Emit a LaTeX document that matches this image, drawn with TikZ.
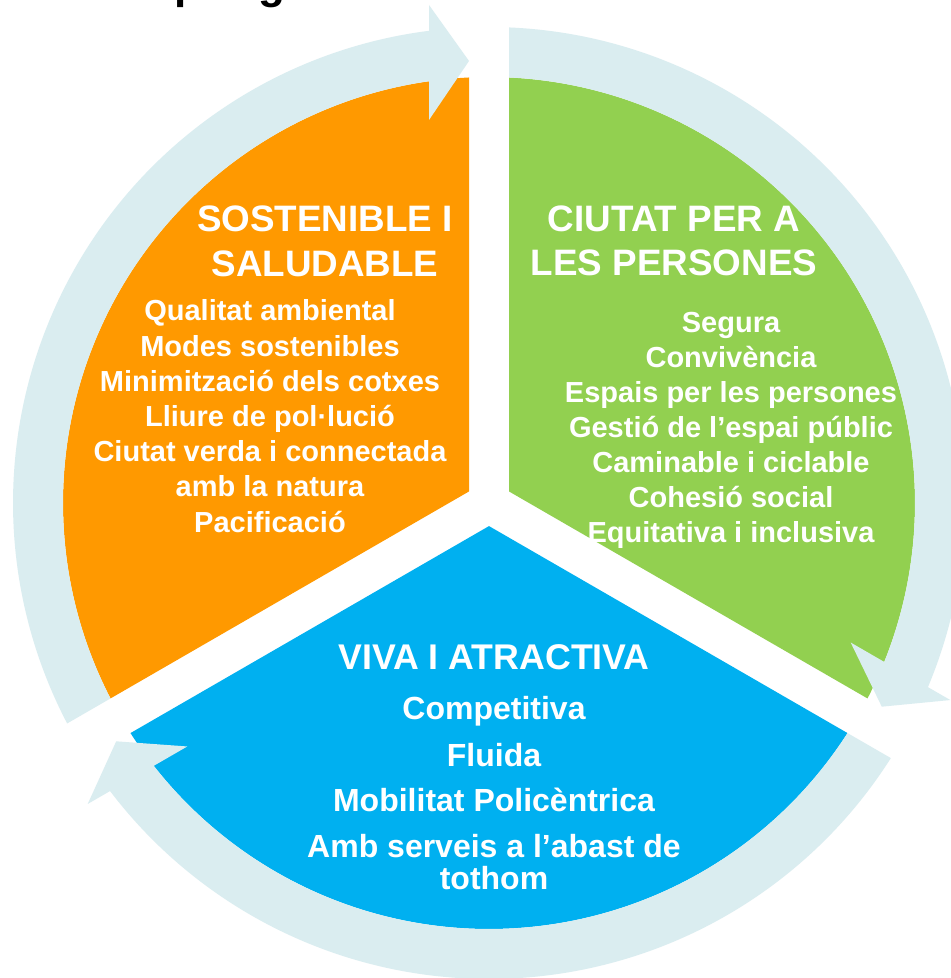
\documentclass[tikz,border=0pt]{standalone}
\usepackage{fontspec}
\setmainfont{Liberation Sans}
\usetikzlibrary{calc}
\definecolor{segorange}{HTML}{FF9900}
\definecolor{seggreen}{HTML}{92D050}
\definecolor{segblue}{HTML}{00B0F0}
\definecolor{ringblue}{RGB}{218,237,240}
\begin{document}
\begin{tikzpicture}[x=1pt,y=1pt,
  headtxt/.style={text=white,font=\bfseries\fontsize{36.8}{44}\selectfont,inner sep=0pt,anchor=base},
  blueheadtxt/.style={text=white,font=\bfseries\fontsize{35.7}{44}\selectfont,inner sep=0pt,anchor=base},
  itemtxt/.style={text=white,font=\bfseries\fontsize{29}{35}\selectfont,inner sep=0pt,anchor=base},
  blueitemtxt/.style={text=white,font=\bfseries\fontsize{32}{35}\selectfont,inner sep=0pt,anchor=base},
  titletxt/.style={text=black,font=\bfseries\fontsize{44}{50}\selectfont,inner sep=0pt,anchor=base west},
  sector/.style={fill=#1},
  ringarrow/.style={fill=ringblue}]
\useasboundingbox (0,0) rectangle (951,978);
\fill[white] (0,0) rectangle (951,978);
\coordinate (O) at (489,475);

% three sectors
\foreach \rot/\col in {0/segorange, -120/seggreen, 120/segblue}{
  \begin{scope}[shift={(O)}, rotate=\rot]
    \path[sector=\col] (-20,11.547) -- (92.691:426)
      arc[start angle=92.691, end angle=207.309, radius=426pt] -- cycle;
  \end{scope}
}

% three circular arrows
\foreach \rot in {0,-120,120}{
  \begin{scope}[shift={(O)}, rotate=\rot]
    \path[ringarrow] (207.309:426) -- (207.592:476)
      arc[start angle=207.592, end angle=97.241, radius=476pt]
      -- (-60,498) -- (-20,442) -- (-60,383) -- (98.097:426)
      arc[start angle=98.097, end angle=207.309, radius=426pt] -- cycle;
  \end{scope}
}

% cut-off title fragments at the top edge
\begin{scope}
  \clip (0,0) rectangle (951,978);
  \node[titletxt] (titleP) at (174,979) {p};
  \node[titletxt] (titleG) at (258,979) {g};
\end{scope}

% orange block
\node[headtxt] (oh1) at (325,746) {SOSTENIBLE I};
\node[headtxt] (oh2) at (325,701) {SALUDABLE};
\foreach \t [count=\i from 0] in {Qualitat ambiental, Modes sostenibles,
  Minimització dels cotxes, Lliure de pol·lució, Ciutat verda i connectada,
  amb la natura, Pacificació}{
  \node[itemtxt] (oi\i) at (270,657-35.2*\i) {\t};
}

% green block
\node[headtxt] (gh1) at (674,746) {CIUTAT PER A};
\node[headtxt] (gh2) at (674,702) {LES PERSONES};
\foreach \t [count=\i from 0] in {Segura, Convivència, Espais per les persones,
  Gestió de l’espai públic, Caminable i ciclable, Cohesió social,
  Equitativa i inclusiva}{
  \node[itemtxt] (gi\i) at (731,645-34.9*\i) {\t};
}

% blue block
\node[blueheadtxt] (bh) at (494,308) {VIVA I ATRACTIVA};
\node[blueitemtxt] (bi1) at (494,258) {Competitiva};
\node[blueitemtxt] (bi2) at (494,211) {Fluida};
\node[blueitemtxt] (bi3) at (494,166) {Mobilitat Policèntrica};
\node[blueitemtxt] (bi4) at (494,120) {Amb serveis a l’abast de};
\node[blueitemtxt] (bi5) at (494,88) {tothom};
\end{tikzpicture}
\end{document}
